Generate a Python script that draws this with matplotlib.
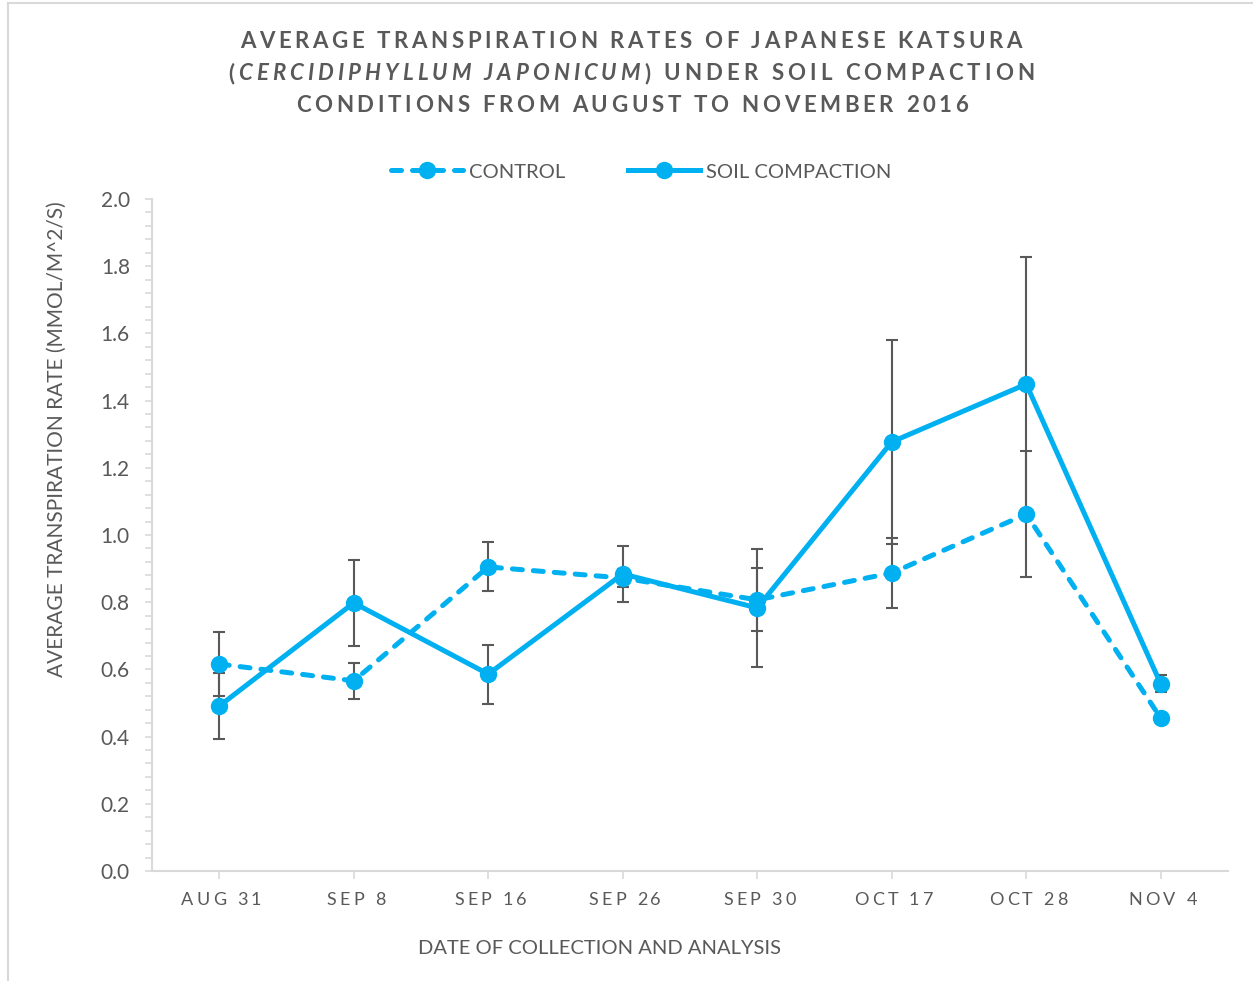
import matplotlib
matplotlib.use('Agg')
import matplotlib.pyplot as plt
from matplotlib.font_manager import FontProperties
from matplotlib.lines import Line2D
from matplotlib.ticker import MultipleLocator, FormatStrFormatter

# values
dates = ['AUG 31', 'SEP 8', 'SEP 16', 'SEP 26', 'SEP 30', 'OCT 17', 'OCT 28', 'NOV 4']
control = [0.616, 0.566, 0.905, 0.872, 0.807, 0.887, 1.062, 0.455]
control_err = [0.095, 0.054, 0.073, 0.027, 0.094, 0.104, 0.188, 0.01]
compaction = [0.491, 0.798, 0.586, 0.884, 0.783, 1.277, 1.449, 0.557]
compaction_err = [0.098, 0.128, 0.088, 0.082, 0.176, 0.304, 0.378, 0.025]

FONT = 'Lato'
BLUE = '#00B0F0'
GREY = '#595959'
LIGHT = '#D9D9D9'
W, H = 1253, 981

plt.rcParams['font.family'] = [FONT, 'DejaVu Sans']

fig = plt.figure(figsize=(W / 100, H / 100), dpi=100)
ax = fig.add_axes([152 / W, 1 - 871 / H, (1228 - 152) / W, (871 - 199) / H])

x = list(range(len(dates)))
ax.errorbar(x, control, yerr=control_err, fmt='none', ecolor=GREY, elinewidth=1.5,
            capsize=4.5, capthick=1.5, zorder=2)
ax.errorbar(x, compaction, yerr=compaction_err, fmt='none', ecolor=GREY, elinewidth=1.5,
            capsize=4.5, capthick=1.5, zorder=2)
ax.plot(x, control, color=BLUE, lw=3.6, ls=(0, (2, 2.2)), dash_capstyle='round',
        marker='o', ms=11.5, zorder=3, label='CONTROL')
ax.plot(x, compaction, color=BLUE, lw=3.6, marker='o', ms=11.5, zorder=3,
        label='SOIL COMPACTION')

ax.set_xlim(-0.5, 7.5)
ax.set_ylim(0, 2.0)
ax.yaxis.set_major_locator(MultipleLocator(0.2))
ax.yaxis.set_minor_locator(MultipleLocator(0.04))
ax.yaxis.set_major_formatter(FormatStrFormatter('%.1f'))
ax.set_xticks(x)
ax.set_xticklabels([])
for s in ['top', 'right']:
    ax.spines[s].set_visible(False)
for s in ['left', 'bottom']:
    ax.spines[s].set_color(LIGHT)
    ax.spines[s].set_linewidth(1.5)
ax.tick_params(axis='y', which='both', direction='out', length=5, width=1.2,
               color=LIGHT, labelcolor=GREY, labelsize=15, pad=11)
ax.tick_params(axis='x', direction='out', length=6, width=1.2, color=LIGHT)

renderer = fig.canvas.get_renderer()


def tracked(xc, y, parts, size, spacing=None, target=None, weight='normal'):
    # draw text char by char with letter spacing, xc / y in pixels from top-left
    chars = []
    for text, style in parts:
        fp = FontProperties(family=FONT, size=size, weight=weight, style=style)
        for ch in text:
            w, h, d = renderer.get_text_width_height_descent(ch, fp, ismath=False)
            chars.append((ch, fp, w))
    widths = sum(c[2] for c in chars)
    if target is not None:
        spacing = (target - widths) / (len(chars) - 1)
    total = widths + spacing * (len(chars) - 1)
    xp = xc - total / 2
    for ch, fp, w in chars:
        fig.text(xp / W, 1 - y / H, ch, fontproperties=fp, color=GREY,
                 ha='left', va='baseline')
        xp += w + spacing


# title
tracked(631, 48, [('AVERAGE TRANSPIRATION RATES OF JAPANESE KATSURA', 'normal')],
        16, target=782, weight='bold')
tracked(631, 80, [('(', 'normal'), ('CERCIDIPHYLLUM JAPONICUM', 'italic'),
                  (') UNDER SOIL COMPACTION', 'normal')],
        16, target=806, weight='bold')
tracked(632, 112, [('CONDITIONS FROM AUGUST TO NOVEMBER 2016', 'normal')],
        16, target=672, weight='bold')

# x tick labels with letter spacing
for i, d in enumerate(dates):
    px = ax.transData.transform((i, 0))[0]
    tracked(px + 2, 905, [(d, 'normal')], 13, spacing=3.2)

fig.text(600 / W, 1 - 949 / H, 'DATE OF COLLECTION AND ANALYSIS', color=GREY,
         fontsize=14.5, ha='center', va='center')
fig.text(57 / W, 1 - 439 / H, 'AVERAGE TRANSPIRATION RATE (MMOL/M^2/S)', color=GREY,
         fontsize=15, ha='center', va='center', rotation=90)

leg = fig.legend(loc='center', bbox_to_anchor=(641 / W, 1 - 172 / H), ncol=2,
                 frameon=False, fontsize=14.5, handlelength=3.58, handletextpad=0.3,
                 columnspacing=3.1)
for t in leg.get_texts():
    t.set_color(GREY)

# chart border
fig.add_artist(Line2D([8 / W, 8 / W], [0, 1 - 3 / H], color=LIGHT, lw=1.5,
                      transform=fig.transFigure))
fig.add_artist(Line2D([8 / W, 1], [1 - 3 / H, 1 - 3 / H], color=LIGHT, lw=1.5,
                      transform=fig.transFigure))

fig.savefig('out.png', dpi=100)
